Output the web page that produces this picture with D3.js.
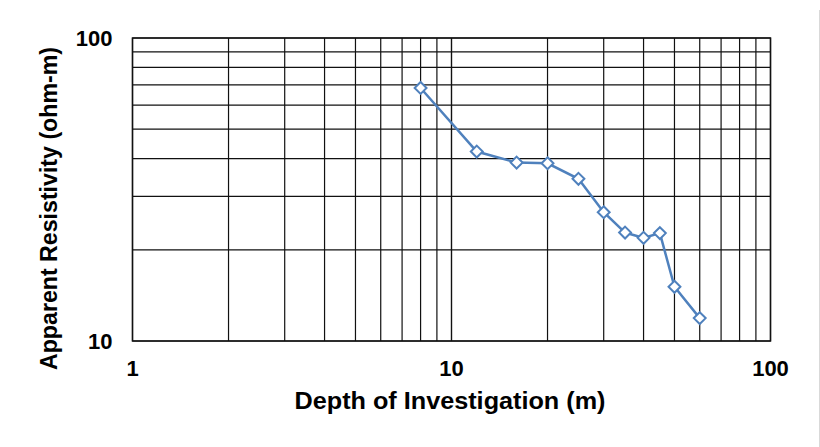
<!DOCTYPE html>
<html>
<head>
<meta charset="utf-8">
<script src="https://cdn.jsdelivr.net/npm/d3@7"></script>
<style>
  body { margin: 0; background: #fff; }
  text { font-family: "Liberation Sans", Arial, sans-serif; font-weight: bold; fill: #000; }
</style>
</head>
<body>
<script>
// depth of investigation (m) and apparent resistivity (ohm-m)
var depth = [8, 12, 16, 20, 25, 30, 35, 40, 45, 50, 60];
var resistivity = [68.4, 42.2, 38.8, 38.6, 34.3, 26.6, 22.8, 21.9, 22.7, 15.1, 11.9];
var xTicks = [1, 10, 100];
var yTicks = [10, 100];

var width = 820, height = 447;
var margin = { left: 132.5, right: 49.5, top: 38, bottom: 106 };

var svg = d3.select('body').append('svg')
    .attr('width', width)
    .attr('height', height);

var x = d3.scaleLog().domain([1, 100]).range([margin.left, width - margin.right]);
var y = d3.scaleLog().domain([10, 100]).range([height - margin.bottom, margin.top]);

// minor + major grid lines
var xGrid = [], yGrid = [];
for (let d = 1; d < 100; d *= 10) {
    for (let k = 1; k <= 10; k++) { xGrid.push(d * k); }
}
for (let k = 1; k <= 10; k++) { yGrid.push(10 * k); }

svg.append('g').selectAll('line')
    .data(xGrid)
    .enter()
    .append('line')
    .attr('x1', function (d) { return x(d); })
    .attr('x2', function (d) { return x(d); })
    .attr('y1', y(10))
    .attr('y2', y(100))
    .attr('stroke', '#111')
    .attr('stroke-width', 1.2);

svg.append('g').selectAll('line')
    .data(yGrid)
    .enter()
    .append('line')
    .attr('x1', x(1))
    .attr('x2', x(100))
    .attr('y1', function (d) { return y(d); })
    .attr('y2', function (d) { return y(d); })
    .attr('stroke', '#111')
    .attr('stroke-width', 1.2);

// plot frame
svg.append('rect')
    .attr('x', x(1)).attr('y', y(100))
    .attr('width', x(100) - x(1)).attr('height', y(10) - y(100))
    .attr('fill', 'none').attr('stroke', '#111').attr('stroke-width', 1.5);

// tick labels
svg.append('g').selectAll('text')
    .data(xTicks)
    .enter()
    .append('text')
    .attr('x', function (d) { return x(d); })
    .attr('y', y(10) + 35)
    .attr('text-anchor', 'middle')
    .style('font-size', '22px')
    .text(function (d) { return d; });

svg.append('g').selectAll('text')
    .data(yTicks)
    .enter()
    .append('text')
    .attr('x', x(1) - 20)
    .attr('y', function (d) { return y(d) + 7.5; })
    .attr('text-anchor', 'end')
    .style('font-size', '22px')
    .text(function (d) { return d; });

// axis titles
svg.append('text')
    .attr('x', 450)
    .attr('y', 409)
    .attr('text-anchor', 'middle')
    .attr('textLength', 311)
    .attr('lengthAdjust', 'spacingAndGlyphs')
    .style('font-size', '23px')
    .text('Depth of Investigation (m)');

svg.append('text')
    .attr('transform', 'translate(57,208.5) rotate(-90)')
    .attr('text-anchor', 'middle')
    .attr('textLength', 323)
    .attr('lengthAdjust', 'spacingAndGlyphs')
    .style('font-size', '23px')
    .text('Apparent Resistivity (ohm-m)');

// data line
var pts = depth.map(function (d, i) { return [d, resistivity[i]]; });
var line = d3.line()
    .x(function (a) { return x(a[0]); })
    .y(function (a) { return y(a[1]); });

svg.append('path')
    .attr('d', line(pts))
    .attr('stroke', '#4f81bd')
    .attr('stroke-width', 2.5)
    .attr('fill', 'none');

svg.append('g').selectAll('path')
    .data(pts)
    .enter()
    .append('path')
    .attr('transform', function (a) { return 'translate(' + x(a[0]) + ',' + y(a[1]) + ')'; })
    .attr('d', d3.symbol().type(d3.symbolDiamond2).size(90))
    .attr('fill', '#fff')
    .attr('stroke', '#4f81bd')
    .attr('stroke-width', 2);

// faint frame edge on the right
svg.append('line')
    .attr('x1', 819.5).attr('x2', 819.5)
    .attr('y1', 10).attr('y2', height)
    .attr('stroke', '#d9d9d9').attr('stroke-width', 1);
</script>
</body>
</html>
